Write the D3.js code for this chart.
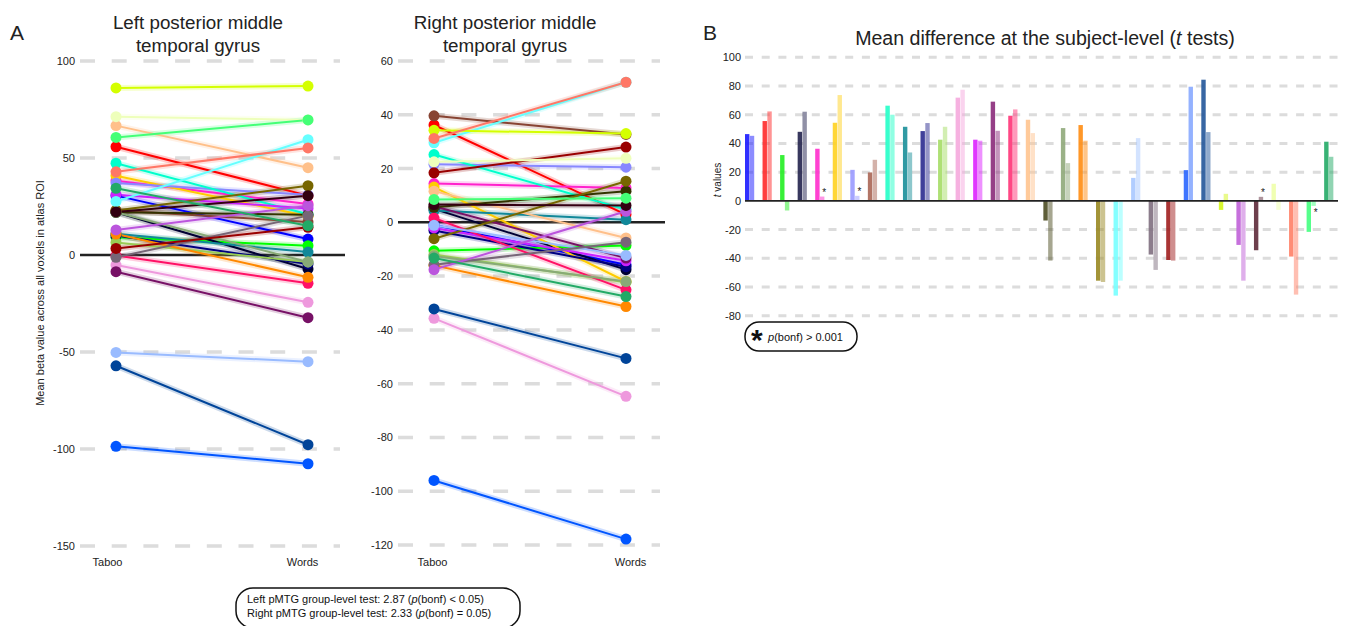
<!DOCTYPE html>
<html><head><meta charset="utf-8">
<script src="https://cdn.jsdelivr.net/npm/d3@7"></script>
<style>body{margin:0;background:#fff;} text{font-family:"Liberation Sans",Arial,sans-serif;}</style>
</head><body>
<svg id="c" width="1347" height="626"></svg>
<script>
// ---- DATA ----
const subjects = d3.range(1, 35).map(i => "S" + i);
const colors = ["#1a1aff","#ff2a2a","#22ee22","#22224d","#ff2ecc","#ffd21f","#9a9aff","#aa6655","#22ffc8","#1a8f99",
  "#2a2a8f","#a5dd66","#f5a8dd","#dd22ff","#8a2a7a","#ff3377","#ffc48f","#4d4d22","#8fa87a","#ff8c11",
  "#998822","#77ffff","#a8c8ff","#7f6f80","#a01e1e","#2a66ff","#225599","#d4f51a","#c060d8","#5e2a3a",
  "#eeffaa","#ff7f66","#44ff80","#22aa66"];
const lineColors = ["#0000ff","#ff0000","#00ff00","#000033","#ff22cc","#ffcc00","#8888ff","#884433","#00ffcc","#118899",
  "#000080","#99cc55","#ee99dd","#cc22ff","#771166","#ff1166","#ffc08a","#333300","#88aa77","#ff8800",
  "#776600","#66ffff","#99bbff","#776677","#990000","#0055ff","#004499","#d4ff00","#bb55dd","#330011",
  "#eeffbb","#ff7766","#44ff77","#22aa66"];
const leftTaboo  = [30.6,55.8,9.1,22.0,38.3,40.9,37.1,23.0,47.3,11.0,10.0,6.5,-5.2,31.1,-8.6,-0.3,66.7,22.0,22.0,10.8,
  22.9,27.6,-50.2,-1.2,3.4,-98.6,-57.1,86.1,12.9,22.2,71.3,42.9,60.6,34.4];
const leftWords  = [8.2,30.6,4.8,-7.2,26.3,20.0,31.0,17.0,21.0,1.5,-4.6,-3.6,-24.4,24.0,-32.3,-14.6,45.0,20.8,-3.6,-11.5,
  35.7,59.4,-55.0,20.3,14.3,-107.6,-97.8,87.1,25.4,30.6,69.6,55.2,69.6,15.1];
const rightTaboo = [-1.0,36.2,-10.6,5.0,14.4,13.1,21.6,39.6,25.2,4.4,-3.0,-12.0,-35.7,-2.1,6.0,1.6,11.6,5.6,-12.5,-16.0,
  -6.1,29.6,-1.1,-15.8,18.4,-96.0,-32.2,34.2,-17.6,6.6,22.5,31.2,8.5,-13.3];
const rightWords = [-15.8,2.9,-8.6,-17.6,12.8,-22.0,20.5,32.7,4.8,1.0,-16.5,-22.3,-64.7,-14.3,-13.3,-25.1,-5.8,11.6,-22.0,-31.3,
  15.3,52.1,-12.3,-7.4,28.0,-117.8,-50.6,33.0,4.1,6.3,23.8,52.1,9.0,-27.6];
const tLeft  = [46.5,55.6,31.9,48.1,36.3,54.4,21.6,19.8,66.3,51.6,48.6,42.6,71.9,42.6,69.1,59.3,56.5,-13.7,50.7,52.8,
  -55.6,-66.0,16.0,-37.4,-41.2,21.4,84.4,-6.3,-30.7,-34.4,11.9,-38.8,-21.6,41.2];
const tRight = [45.3,62.3,-6.7,62.1,3.0,73.7,3.5,28.6,60.0,33.7,54.2,51.6,77.4,41.9,48.8,63.7,47.2,-41.6,26.3,41.9,
  -56.5,-55.6,43.7,-48.1,-41.6,79.5,47.9,4.9,-55.6,2.8,-6.3,-65.3,-3.5,30.7];
const notSig = [5,7,30,33]; // subjects whose right bar has p(bonf) > 0.001
const conditions = ["Taboo","Words"];
const leftTicks = [100,50,0,-50,-100,-150];
const rightTicks = [60,40,20,0,-20,-40,-60,-80,-100,-120];
const bTicks = [100,80,60,40,20,0,-20,-40,-60,-80];

const svg = d3.select("#c");
const FONT = "Liberation Sans, Arial, sans-serif";
const fmt = d => String(d);

function panel(opts){
  const g = svg.append("g");
  const y = d3.scaleLinear().domain(opts.domain).range(opts.range);
  const x = d3.scalePoint().domain(conditions).range(opts.xr);
  g.selectAll(".grid").data(opts.ticks.filter(t=>t!==0)).enter().append("line")
    .attr("x1",opts.gx[0]).attr("x2",opts.gx[1]).attr("y1",d=>y(d)).attr("y2",d=>y(d))
    .attr("stroke","#dcdcdc").attr("stroke-width",3.5).attr("stroke-dasharray","15,16.7");
  g.append("line").attr("x1",opts.gx[0]).attr("x2",opts.gx[1]+5).attr("y1",y(0)).attr("y2",y(0))
    .attr("stroke","#222").attr("stroke-width",2.5);
  const ax = d3.axisLeft(y).tickValues(opts.ticks).tickFormat(fmt).tickSize(0).tickPadding(0);
  const axg = g.append("g").attr("transform",`translate(${opts.ax},0)`).call(ax);
  axg.select(".domain").remove();
  axg.selectAll("text").attr("font-size",11).attr("font-family",FONT).attr("fill","#222");
  const xax = d3.axisBottom(x).tickSize(0).tickPadding(0);
  const xg = g.append("g").attr("transform",`translate(0,${opts.xy})`).call(xax);
  xg.select(".domain").remove();
  xg.selectAll("text").attr("font-size",11).attr("font-family",FONT).attr("fill","#222")
    .attr("dx",(d,i)=>opts.xoff[i]);
  const data = subjects.map((s,i)=>({i, a:opts.a[i], b:opts.b[i]}));
  g.selectAll(".rib").data(data).enter().append("line")
    .attr("x1",x("Taboo")).attr("x2",x("Words")).attr("y1",d=>y(d.a)).attr("y2",d=>y(d.b))
    .attr("stroke",d=>lineColors[d.i]).attr("stroke-width",6).attr("stroke-opacity",0.2);
  g.selectAll(".ln").data(data).enter().append("line")
    .attr("x1",x("Taboo")).attr("x2",x("Words")).attr("y1",d=>y(d.a)).attr("y2",d=>y(d.b))
    .attr("stroke",d=>lineColors[d.i]).attr("stroke-width",2);
  g.selectAll(".pa").data(data).enter().append("circle")
    .attr("cx",x("Taboo")).attr("cy",d=>y(d.a)).attr("r",5.5).attr("fill",d=>lineColors[d.i]);
  g.selectAll(".pb").data(data).enter().append("circle")
    .attr("cx",x("Words")).attr("cy",d=>y(d.b)).attr("r",5.5).attr("fill",d=>lineColors[d.i]);
  const t = g.append("text").attr("text-anchor","middle").attr("font-size",18.8).attr("fill","#222");
  t.append("tspan").attr("x",opts.tx).attr("y",29).text(opts.title[0]);
  t.append("tspan").attr("x",opts.tx).attr("y",52).text(opts.title[1]);
}

panel({domain:[-150,100], range:[546,61], xr:[116,308], gx:[80,340], ax:75, xy:558, xoff:[-9,-6],
  ticks:leftTicks, a:leftTaboo, b:leftWords, tx:198, title:["Left posterior middle","temporal gyrus"]});
panel({domain:[-120,60], range:[545,61], xr:[434,626], gx:[398,660], ax:393, xy:558, xoff:[-2,4],
  ticks:rightTicks, a:rightTaboo, b:rightWords, tx:505, title:["Right posterior middle","temporal gyrus"]});

svg.append("text").attr("x",10).attr("y",40).attr("font-size",21).attr("fill","#222").text("A");
svg.append("text").attr("transform","translate(44,293) rotate(-90)").attr("text-anchor","middle")
  .attr("font-size",11).attr("fill","#222").text("Mean beta value across all voxels in atlas ROI");

// bottom note
svg.append("rect").attr("x",236).attr("y",588).attr("width",284).attr("height",40).attr("rx",17)
  .attr("fill","#fff").attr("stroke","#111").attr("stroke-width",1.5);
const n1 = svg.append("text").attr("x",247).attr("y",603).attr("font-size",11).attr("fill","#111");
n1.append("tspan").text("Left pMTG group-level test: 2.87 (");
n1.append("tspan").attr("font-style","italic").text("p");
n1.append("tspan").text("(bonf) < 0.05)");
const n2 = svg.append("text").attr("x",247).attr("y",617).attr("font-size",11).attr("fill","#111");
n2.append("tspan").text("Right pMTG group-level test: 2.33 (");
n2.append("tspan").attr("font-style","italic").text("p");
n2.append("tspan").text("(bonf) = 0.05)");

// ---- Panel B ----
const gb = svg.append("g");
const yb = d3.scaleLinear().domain([-80,100]).range([315.7,57.3]);
const xb = d3.scaleBand().domain(subjects).range([745, 745+34*17.55]).padding(0);
gb.selectAll(".grid").data(bTicks.filter(t=>t!==0)).enter().append("line")
  .attr("x1",745).attr("x2",1342).attr("y1",d=>yb(d)).attr("y2",d=>yb(d))
  .attr("stroke","#dcdcdc").attr("stroke-width",3).attr("stroke-dasharray","8,8.7");
const bw = 4.4;
gb.selectAll(".b1").data(subjects).enter().append("rect")
  .attr("x",d=>xb(d)).attr("width",bw)
  .attr("y",(d,i)=>yb(Math.max(0,tLeft[i]))).attr("height",(d,i)=>Math.abs(yb(tLeft[i])-yb(0)))
  .attr("fill",(d,i)=>colors[i]).attr("fill-opacity",0.9);
gb.selectAll(".b2").data(subjects).enter().append("rect")
  .attr("x",d=>xb(d)+bw+0.4).attr("width",bw)
  .attr("y",(d,i)=>yb(Math.max(0,tRight[i]))).attr("height",(d,i)=>Math.abs(yb(tRight[i])-yb(0)))
  .attr("fill",(d,i)=>colors[i]).attr("fill-opacity",0.5);
gb.append("line").attr("x1",745).attr("x2",1338).attr("y1",yb(0)).attr("y2",yb(0))
  .attr("stroke","#222").attr("stroke-width",1.8);
gb.selectAll(".star").data(notSig).enter().append("text")
  .attr("x",d=>xb(subjects[d-1])+bw*1.5+2.5).attr("text-anchor","middle")
  .attr("y",d=>tRight[d-1]>=0 ? yb(tRight[d-1])-1 : yb(tRight[d-1])+10)
  .attr("font-size",10).attr("fill","#222").text("*");
const axb = gb.append("g").attr("transform","translate(741,0)")
  .call(d3.axisLeft(yb).tickValues(bTicks).tickFormat(fmt).tickSize(0).tickPadding(0));
axb.select(".domain").remove();
axb.selectAll("text").attr("font-size",11).attr("font-family",FONT).attr("fill","#222");
const yl = gb.append("text").attr("transform","translate(721,180) rotate(-90)").attr("text-anchor","middle")
  .attr("font-size",10).attr("fill","#222");
yl.append("tspan").attr("font-style","italic").text("t");
yl.append("tspan").text(" values");
const tb = gb.append("text").attr("x",1045).attr("y",45).attr("text-anchor","middle").attr("font-size",19.6).attr("fill","#222");
tb.append("tspan").text("Mean difference at the subject-level (");
tb.append("tspan").attr("font-style","italic").text("t");
tb.append("tspan").text(" tests)");
svg.append("text").attr("x",703).attr("y",40).attr("font-size",21).attr("fill","#222").text("B");
// legend
gb.append("rect").attr("x",745).attr("y",322).attr("width",112).attr("height",29).attr("rx",14)
  .attr("fill","#fff").attr("stroke","#111").attr("stroke-width",1.5);
gb.append("text").attr("x",751).attr("y",350).attr("font-size",30).attr("font-weight","bold").attr("fill","#111").text("*");
const lg = gb.append("text").attr("x",768).attr("y",341).attr("font-size",11).attr("fill","#111");
lg.append("tspan").attr("font-style","italic").text("p");
lg.append("tspan").text("(bonf) > 0.001");
</script>
</body></html>
